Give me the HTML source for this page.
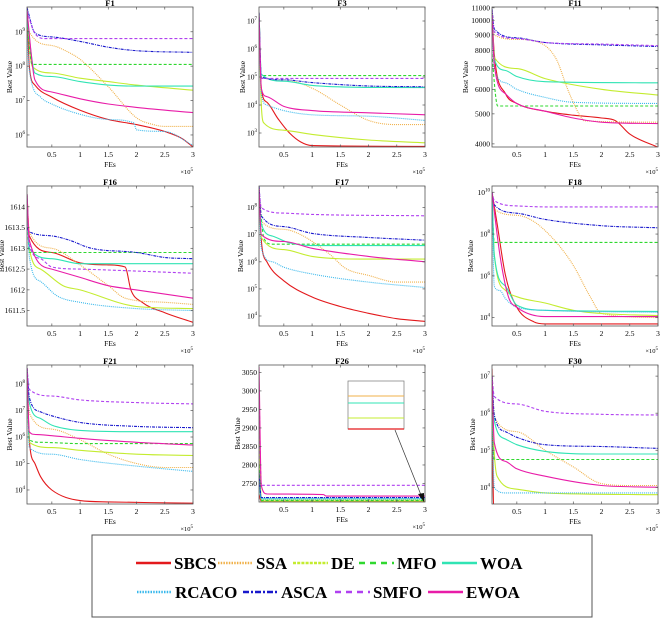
<!DOCTYPE html>
<html><head><meta charset="utf-8">
<style>
html,body{margin:0;padding:0;background:#fff;}
svg{display:block;font-family:"Liberation Serif",serif;}
text{font-family:"Liberation Serif",serif;}
</style></head>
<body>
<svg id="fig" width="660" height="619" viewBox="0 0 660 619"></svg>
<script>
// ---- data (x in units of 1e5 FEs; y: log10(best value) for exp panels, raw value otherwise)
const seriesNames = ["SBCS","SSA","DE","MFO","WOA","RCACO","ASCA","SMFO","EWOA"];
const xTicks = [0.5,1,1.5,2,2.5,3];

const F1 = {
 SBCS:[[0.06,9.7],[0.1,8.0],[0.2,7.45],[0.5,7.1],[1,6.72],[1.5,6.45],[2,6.3],[2.5,6.1],[2.8,5.9],[3,5.65]],
 SSA:[[0.06,9.7],[0.1,9.0],[0.5,8.6],[0.8,8.4],[1,8.2],[1.5,7.4],[2,6.5],[2.3,6.3],[2.5,6.25],[3,6.25]],
 DE:[[0.06,9.5],[0.15,8.0],[0.5,7.8],[1,7.65],[1.5,7.55],[2,7.45],[3,7.3]],
 MFO:[[0.06,9.3],[0.15,8.05],[3,8.05]],
 WOA:[[0.06,9.4],[0.2,7.8],[0.5,7.7],[1,7.55],[1.5,7.45],[2,7.42],[3,7.42]],
 RCACO:[[0.06,9.0],[0.1,7.9],[0.3,7.1],[0.5,6.9],[1,6.6],[1.5,6.45],[1.95,6.35],[2,6.15],[2.5,6.1],[3,5.7]],
 ASCA:[[0.06,9.7],[0.2,8.97],[0.5,8.85],[1,8.72],[1.5,8.55],[2,8.45],[3,8.4]],
 SMFO:[[0.06,9.6],[0.2,8.95],[0.4,8.8],[3,8.8]],
 EWOA:[[0.06,9.6],[0.2,7.6],[0.5,7.25],[1,7.05],[1.5,6.9],[2,6.8],[3,6.65]]
};
const F3 = {
 SBCS:[[0.06,7.3],[0.1,4.6],[0.2,4.1],[0.4,3.5],[0.6,3.0],[0.8,2.68],[1,2.55],[3,2.52]],
 SSA:[[0.06,7.3],[0.1,5.0],[0.5,4.9],[1,4.6],[1.5,4.0],[2,3.45],[2.5,3.3],[3,3.3]],
 DE:[[0.06,7.0],[0.1,4.0],[0.15,3.35],[0.5,3.1],[1,2.95],[2,2.75],[3,2.65]],
 MFO:[[0.06,7.3],[0.1,5.05],[3,5.05]],
 WOA:[[0.06,7.3],[0.1,5.1],[0.5,4.85],[1,4.7],[2,4.63],[3,4.62]],
 RCACO:[[0.06,7.0],[0.1,4.4],[0.2,4.0],[0.5,3.8],[1,3.65],[2,3.6],[3,3.45]],
 ASCA:[[0.06,7.3],[0.1,5.0],[0.5,4.9],[1,4.8],[2,4.68],[3,4.65]],
 SMFO:[[0.06,7.3],[0.1,4.95],[3,4.95]],
 EWOA:[[0.06,7.2],[0.1,4.6],[0.2,4.3],[0.5,3.95],[1,3.8],[2,3.72],[3,3.65]]
};
const F11 = {
 SBCS:[[0.06,10500],[0.1,7800],[0.3,5800],[0.5,5400],[1,5100],[1.5,4950],[2,4850],[2.25,4750],[2.5,4300],[3,3900]],
 SSA:[[0.06,10800],[0.1,9000],[0.5,8700],[0.9,8500],[1.2,7500],[1.4,6000],[1.6,5000],[1.7,4750],[3,4700]],
 DE:[[0.06,10500],[0.1,7600],[0.5,7000],[1,6500],[2,6000],[3,5750]],
 MFO:[[0.06,7800],[0.12,5800],[0.16,5300],[3,5300]],
 WOA:[[0.06,10500],[0.1,7500],[0.3,6900],[0.5,6600],[1,6350],[3,6300]],
 RCACO:[[0.06,10500],[0.1,7000],[0.3,6300],[0.5,6000],[1,5650],[1.5,5450],[3,5400]],
 ASCA:[[0.06,10900],[0.1,9400],[0.5,8800],[1,8500],[2,8350],[3,8250]],
 SMFO:[[0.06,10800],[0.1,9200],[0.5,8750],[1,8500],[2,8400],[3,8300]],
 EWOA:[[0.06,10500],[0.1,7200],[0.3,5800],[0.5,5400],[1,5100],[1.5,4850],[2,4700],[3,4650]]
};
const F16 = {
 SBCS:[[0.06,1614.3],[0.1,1613.3],[0.5,1612.9],[1,1612.65],[1.5,1612.6],[1.8,1612.55],[1.9,1612.0],[2.1,1611.7],[2.5,1611.45],[3,1611.22]],
 SSA:[[0.06,1614.3],[0.1,1613.4],[0.5,1613.0],[1,1612.6],[1.5,1612.1],[1.8,1611.8],[2.5,1611.7],[3,1611.65]],
 DE:[[0.06,1614.3],[0.1,1613.0],[0.3,1612.5],[0.7,1612.1],[1,1612.0],[2,1611.6],[3,1611.55]],
 MFO:[[0.06,1614.0],[0.1,1612.9],[3,1612.9]],
 WOA:[[0.06,1614.3],[0.1,1613.0],[0.5,1612.75],[1,1612.63],[3,1612.63]],
 RCACO:[[0.06,1614.3],[0.1,1612.8],[0.3,1612.2],[0.6,1611.85],[1,1611.7],[2,1611.55],[3,1611.5]],
 ASCA:[[0.06,1613.5],[0.1,1613.4],[0.5,1613.3],[0.8,1613.2],[1.2,1613.0],[2,1612.9],[2.5,1612.78],[3,1612.75]],
 SMFO:[[0.06,1614.3],[0.1,1613.1],[0.3,1612.75],[0.5,1612.55],[1,1612.5],[3,1612.4]],
 EWOA:[[0.06,1614.3],[0.1,1613.2],[0.5,1612.5],[1,1612.3],[1.5,1612.1],[2,1612.0],[3,1611.8]]
};
const F17 = {
 SBCS:[[0.06,8.8],[0.1,6.8],[0.2,6.0],[0.5,5.3],[1,4.7],[1.5,4.35],[2,4.1],[2.5,3.9],[3,3.8]],
 SSA:[[0.06,8.7],[0.1,7.5],[0.5,7.2],[0.8,7.0],[1.3,6.3],[1.6,5.75],[2,5.5],[2.5,5.25],[3,5.25]],
 DE:[[0.06,8.5],[0.1,6.9],[0.5,6.45],[1,6.2],[2,6.1],[3,6.1]],
 MFO:[[0.06,8.5],[0.15,6.85],[0.3,6.65],[3,6.65]],
 WOA:[[0.06,8.6],[0.1,7.4],[0.3,6.95],[0.6,6.7],[1,6.6],[3,6.6]],
 RCACO:[[0.06,8.5],[0.1,6.5],[0.3,6.0],[0.5,5.8],[1,5.55],[2,5.25],[3,5.05]],
 ASCA:[[0.06,8.8],[0.1,7.7],[0.5,7.3],[1,7.05],[2,6.9],[3,6.8]],
 SMFO:[[0.06,8.7],[0.1,8.0],[0.5,7.8],[1,7.75],[3,7.7]],
 EWOA:[[0.06,8.7],[0.1,7.0],[0.5,6.75],[1,6.5],[2,6.2],[3,6.0]]
};
const F18 = {
 SBCS:[[0.06,10.0],[0.15,8.5],[0.3,6.0],[0.5,4.5],[0.8,3.8],[1,3.7],[3,3.7]],
 SSA:[[0.06,10.0],[0.1,9.2],[0.5,8.9],[0.8,8.6],[1.2,7.6],[1.5,6.5],[1.8,5.0],[2,4.2],[3,4.0]],
 DE:[[0.06,10.0],[0.1,7.0],[0.3,5.3],[0.5,5.0],[1,4.7],[1.5,4.35],[2,4.2],[3,4.1]],
 MFO:[[0.06,9.5],[0.1,7.6],[3,7.6]],
 WOA:[[0.06,10.0],[0.1,7.0],[0.3,5.5],[0.5,4.6],[1,4.35],[3,4.3]],
 RCACO:[[0.06,10.0],[0.1,5.5],[0.2,5.3],[0.3,4.9],[0.5,4.5],[1,4.35],[3,4.25]],
 ASCA:[[0.06,10.0],[0.1,9.4],[0.5,9.0],[1,8.7],[2,8.4],[3,8.3]],
 SMFO:[[0.06,10.0],[0.1,9.6],[0.5,9.35],[1,9.3],[3,9.3]],
 EWOA:[[0.06,10.0],[0.2,7.0],[0.35,5.0],[0.5,4.5],[1,4.05],[3,4.05]]
};
const F21 = {
 SBCS:[[0.06,8.6],[0.1,5.9],[0.2,5.0],[0.3,4.5],[0.5,4.0],[1,3.6],[1.5,3.55],[3,3.5]],
 SSA:[[0.06,8.6],[0.1,6.9],[0.5,6.3],[1,5.9],[1.5,5.35],[2,5.0],[2.5,4.85],[3,4.85]],
 DE:[[0.06,8.6],[0.1,5.8],[0.5,5.6],[1,5.5],[2,5.35],[3,5.3]],
 MFO:[[0.06,8.5],[0.1,5.9],[0.3,5.8],[1,5.75],[3,5.75]],
 WOA:[[0.06,8.6],[0.1,7.3],[0.3,6.7],[0.5,6.45],[1,6.25],[2,6.2],[3,6.2]],
 RCACO:[[0.06,8.6],[0.1,5.6],[0.5,5.35],[1,5.15],[2,4.9],[3,4.7]],
 ASCA:[[0.06,8.6],[0.1,7.5],[0.3,6.95],[0.5,6.8],[1,6.55],[2,6.4],[3,6.35]],
 SMFO:[[0.06,8.6],[0.1,7.8],[0.5,7.55],[1,7.4],[2,7.3],[3,7.25]],
 EWOA:[[0.06,8.6],[0.1,6.2],[0.2,6.1],[0.5,6.05],[1,5.95],[2,5.8],[3,5.7]]
};
const F26 = {
 SBCS:[[0.06,2720],[0.1,2702],[3,2702]],
 SSA:[[0.06,2760],[0.1,2706],[3,2706]],
 DE:[[0.06,2930],[0.1,2703],[3,2703]],
 MFO:[[0.06,2800],[0.1,2704],[3,2704]],
 WOA:[[0.06,2760],[0.1,2708],[3,2708]],
 RCACO:[[0.06,2760],[0.1,2710],[3,2710]],
 ASCA:[[0.06,2780],[0.1,2712],[3,2712]],
 SMFO:[[0.06,3000],[0.1,2745],[3,2745]],
 EWOA:[[0.06,3065],[0.1,2745],[0.2,2722],[1.2,2720],[1.25,2716],[3,2716]]
};
const F30 = {
 SBCS:[[0.06,7.2],[0.09,3.4],[3,3.4]],
 SSA:[[0.06,7.0],[0.1,5.9],[0.5,5.5],[1,5.0],[1.5,4.55],[2,4.1],[2.5,4.05],[3,4.05]],
 DE:[[0.06,6.5],[0.08,5.5],[0.15,4.3],[0.5,3.95],[1,3.85],[3,3.8]],
 MFO:[[0.06,5.5],[0.1,4.75],[3,4.75]],
 WOA:[[0.06,7.0],[0.1,5.8],[0.3,5.3],[0.5,5.15],[1,4.97],[2,4.9],[3,4.9]],
 RCACO:[[0.06,6.0],[0.1,4.0],[0.3,3.85],[1,3.85],[3,3.85]],
 ASCA:[[0.06,7.0],[0.1,5.95],[0.3,5.5],[0.5,5.35],[1,5.15],[2,5.1],[3,5.05]],
 SMFO:[[0.06,7.0],[0.1,6.45],[0.5,6.25],[1,6.05],[2,5.97],[3,5.95]],
 EWOA:[[0.06,7.0],[0.1,5.2],[0.3,4.7],[0.5,4.5],[1,4.3],[2,4.05],[3,4.0]]
};
const F1_ticks=[6,7,8,9], F3_ticks=[3,4,5,6,7], F11_ticks=[4000,5000,6000,7000,8000,9000,10000,11000];
const F16_ticks=[1611.5,1612,1612.5,1613,1613.5,1614], F17_ticks=[4,5,6,7,8], F18_ticks=[4,6,8,10];
const F21_ticks=[4,5,6,7,8], F26_ticks=[2750,2800,2850,2900,2950,3000,3050], F30_ticks=[4,5,6,7];

const styles = {
 SBCS:{c:"#e3191c",d:""}, SSA:{c:"#f0b048",d:"1 1"}, DE:{c:"#c4ec30",d:""},
 MFO:{c:"#2fd82f",d:"3 2"}, WOA:{c:"#30e4b4",d:""}, RCACO:{c:"#38b8ec",d:"1 1"},
 ASCA:{c:"#1818cc",d:"3 1 1 1"}, SMFO:{c:"#b040f0",d:"3 2"}, EWOA:{c:"#e81ca8",d:""}
};
const panels = [
 {t:"F1",data:F1,x:27,y:7,h:140,sc:"exp",lo:5.65,hi:9.72,ticks:F1_ticks,yl:15},
 {t:"F3",data:F3,x:259,y:7,h:140,sc:"exp",lo:2.5,hi:7.5,ticks:F3_ticks,yl:14},
 {t:"F11",data:F11,x:492,y:7,h:140,sc:"log",lo:3908,hi:11066,ticks:F11_ticks,yl:24},
 {t:"F16",data:F16,x:27,y:186,h:140,sc:"lin",lo:1611.13,hi:1614.5,ticks:F16_ticks,yl:23},
 {t:"F17",data:F17,x:259,y:186,h:140,sc:"exp",lo:3.63,hi:8.8,ticks:F17_ticks,yl:16},
 {t:"F18",data:F18,x:492,y:186,h:140,sc:"exp",lo:3.6,hi:10.3,ticks:F18_ticks,yl:19},
 {t:"F21",data:F21,x:27,y:365,h:139,sc:"exp",lo:3.47,hi:8.72,ticks:F21_ticks,yl:15},
 {t:"F26",data:F26,x:259,y:365,h:137,sc:"lin",lo:2700,hi:3070,ticks:F26_ticks,yl:19},
 {t:"F30",data:F30,x:492,y:365,h:139,sc:"exp",lo:3.55,hi:7.3,ticks:F30_ticks,yl:17}
];
const XMIN=0.06, XMAX=3, W=166;
const NS="http://www.w3.org/2000/svg";
const svg=document.getElementById("fig");
function mk(tag,attrs,parent){const e=document.createElementNS(NS,tag);for(const k in attrs)e.setAttribute(k,attrs[k]);(parent||svg).appendChild(e);return e;}

// monotone cubic path (Fritsch-Carlson)
function monoPath(P){
 const n=P.length; if(n<2) return "";
 const dx=[],s=[];
 for(let i=0;i<n-1;i++){dx[i]=P[i+1][0]-P[i][0];s[i]=(P[i+1][1]-P[i][1])/(dx[i]||1e-9);}
 const m=[s[0]];
 for(let i=1;i<n-1;i++){m[i]=(s[i-1]*s[i]<=0)?0:(s[i-1]+s[i])/2;}
 m[n-1]=s[n-2];
 for(let i=0;i<n-1;i++){
  if(s[i]===0){m[i]=0;m[i+1]=0;continue;}
  const a=m[i]/s[i],b=m[i+1]/s[i],h=a*a+b*b;
  if(h>9){const t=3/Math.sqrt(h);m[i]=t*a*s[i];m[i+1]=t*b*s[i];}
 }
 let d="M"+P[0][0].toFixed(1)+","+P[0][1].toFixed(1);
 for(let i=0;i<n-1;i++){
  const h=dx[i]/3;
  d+=" C"+(P[i][0]+h).toFixed(1)+","+(P[i][1]+m[i]*h).toFixed(1)+" "+(P[i+1][0]-h).toFixed(1)+","+(P[i+1][1]-m[i+1]*h).toFixed(1)+" "+P[i+1][0].toFixed(1)+","+P[i+1][1].toFixed(1);
 }
 return d;
}

panels.forEach((p,pi)=>{
 const g=mk("g",{});
 
 
 const xs=v=>p.x+(v-XMIN)/(XMAX-XMIN)*W;
 const tr=v=>p.sc==="log"?Math.log10(v):v;
 const ys=v=>p.y+(tr(p.hi)-tr(v))/(tr(p.hi)-tr(p.lo))*p.h;
 const cid="clip"+pi;
 const cp=mk("clipPath",{id:cid},g); mk("rect",{x:p.x,y:p.y,width:W,height:p.h},cp);
 const tt=mk("text",{x:p.x+W/2,y:p.y-1,"text-anchor":"middle","font-size":"8.5","font-weight":"bold"},g);
 tt.textContent=p.t;
 
 
 const sg=mk("g",{"clip-path":"url(#"+cid+")"},g);
 seriesNames.forEach(n=>{
  const pts=p.data[n].map(d=>[xs(d[0]),ys(d[1])]);
  const pl=mk("path",{d:monoPath(pts),fill:"none",stroke:styles[n].c,"stroke-width":"1.1","stroke-dasharray":styles[n].d,"stroke-linejoin":"round"},sg);
  
  
 });
 const bx=mk("rect",{x:p.x,y:p.y,width:W,height:p.h,fill:"none",stroke:"#555","stroke-width":"0.8"},g);
 
 
 xTicks.forEach(v=>{
  const X=xs(v);
  mk("line",{x1:X,x2:X,y1:p.y+p.h,y2:p.y+p.h-2.5,stroke:"#555","stroke-width":"0.7"},g);
  mk("line",{x1:X,x2:X,y1:p.y,y2:p.y+2.5,stroke:"#555","stroke-width":"0.7"},g);
  const t=mk("text",{x:X,y:p.y+p.h+10,"text-anchor":"middle","font-size":"7.5"},g);
  t.textContent=String(v);
  
  
 });
 const xl=mk("text",{x:p.x+W/2,y:p.y+p.h+20,"text-anchor":"middle","font-size":"7.5"},g);
 xl.textContent="FEs";
 
 
 const xm=mk("text",{x:p.x+W,y:p.y+p.h+27,"text-anchor":"end","font-size":"6.5"},g);
 xm.innerHTML='×10<tspan dy="-3" font-size="5">5</tspan>';
 
 
 p.ticks.forEach(v=>{
  const Y=ys(v);
  mk("line",{x1:p.x,x2:p.x+2.5,y1:Y,y2:Y,stroke:"#555","stroke-width":"0.7"},g);
  mk("line",{x1:p.x+W,x2:p.x+W-2.5,y1:Y,y2:Y,stroke:"#555","stroke-width":"0.7"},g);
  const t=mk("text",{x:p.x-2,y:Y+2.5,"text-anchor":"end","font-size":"7.5"},g);
  if(p.sc==="exp") t.innerHTML='10<tspan dy="-3.5" font-size="5">'+v+'</tspan>';
  else t.textContent=String(v);
  
  
 });
 const yl=mk("text",{x:0,y:0,"text-anchor":"middle","font-size":"7.5",transform:"translate("+(p.x-p.yl)+","+(p.y+p.h/2)+") rotate(-90)"},g);
 yl.textContent="Best Value";
 
 
});

(function(){
 const g=mk("g",{});
 
 
 mk("rect",{x:348,y:381,width:56,height:48,fill:"#fff",stroke:"#777","stroke-width":"0.7"},g);
 mk("line",{x1:348,x2:404,y1:396,y2:396,stroke:"#f0b048","stroke-width":"0.9"},g);
 mk("line",{x1:348,x2:404,y1:403,y2:403,stroke:"#30e4b4","stroke-width":"1"},g);
 mk("line",{x1:348,x2:404,y1:418,y2:418,stroke:"#c4ec30","stroke-width":"1"},g);
 mk("line",{x1:348,x2:404,y1:429,y2:429,stroke:"#e3191c","stroke-width":"1.2"},g);
 mk("line",{x1:395,y1:430,x2:421,y2:495,stroke:"#333","stroke-width":"0.7"},g);
 mk("polygon",{points:"424,502 418,494 424,493",fill:"#111"},g);
})();

(function(){
 const g=mk("g",{});
 
 
 mk("rect",{x:92,y:535,width:500,height:82,fill:"#fff",stroke:"#555","stroke-width":"1"},g);
 const pos={SBCS:[136,563],SSA:[218,563],DE:[293,563],MFO:[359,563],WOA:[442,563],
  RCACO:[137,592],ASCA:[243,592],SMFO:[335,592],EWOA:[428,592]};
 const legDash={SBCS:"",SSA:"1.5 1.2",DE:"3 1.2",MFO:"6 5",WOA:"",RCACO:"1.5 1.2",ASCA:"6 2 2 2",SMFO:"6 5",EWOA:""};
 seriesNames.forEach(n=>{
  const [x,y]=pos[n];
  const e=mk("g",{},g);
  
  
  mk("line",{x1:x,x2:x+35,y1:y,y2:y,stroke:styles[n].c,"stroke-width":"2.5","stroke-dasharray":legDash[n]},e);
  const t=mk("text",{x:x+38,y:y+6,"font-size":"17","font-weight":"bold","font-family":"Liberation Serif, serif"},e);
  t.textContent=n;
 });
})();
</script>
</body></html>
